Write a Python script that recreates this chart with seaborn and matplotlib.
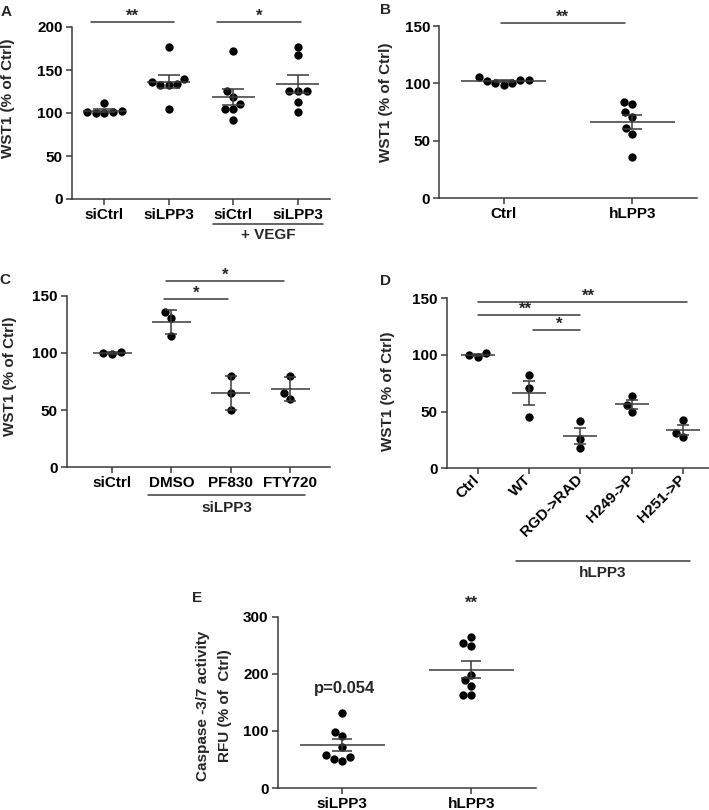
import numpy as np
import pandas as pd
import matplotlib
matplotlib.use("Agg")
import matplotlib.pyplot as plt
import seaborn as sns

sns.set_theme(style="ticks")
plt.rcParams["font.family"] = ["Liberation Sans", "DejaVu Sans"]
plt.rcParams["font.weight"] = "bold"
plt.rcParams["axes.labelweight"] = "bold"

# ---------------- data ----------------
# Panel A
a_labels = ["siCtrl", "siLPP3", "siCtrl", "siLPP3"]
a_siCtrl = [112, 101, 100, 101, 100, 102]
a_siLPP3 = [177, 136, 132, 132, 134, 140, 105]
a_siCtrl_vegf = [172, 126, 119, 105, 105, 111, 92]
a_siLPP3_vegf = [167, 177, 126, 126, 126, 113, 101]

# Panel B
b_labels = ["Ctrl", "hLPP3"]
b_ctrl = [105.3, 103, 100.7, 98.6, 100, 102, 103]
b_hlpp3 = [83.8, 81.8, 75.4, 71, 61, 55.7, 35.7]

# Panel C
c_labels = ["siCtrl", "DMSO", "PF830", "FTY720"]
c_siCtrl = [101, 99, 100]
c_dmso = [135.4, 130.2, 115]
c_pf830 = [79.8, 64.7, 50]
c_fty720 = [79.8, 59.7, 64.7]

# Panel D
d_labels = ["Ctrl", "WT", "RGD->RAD", "H249->P", "H251->P"]
d_ctrl = [101.5, 98.5, 100.3]
d_wt = [82.4, 71.2, 45.6]
d_rgd = [41.5, 25.9, 18.2]
d_h249 = [63.8, 55.9, 50]
d_h251 = [42.6, 31.5, 27.4]

# Panel E
e_labels = ["siLPP3", "hLPP3"]
e_silpp3 = [130.7, 91, 98, 71.2, 53.7, 46.7, 51.4, 58.4]
e_hlpp3 = [264.4, 248.6, 253.9, 198.4, 188.5, 178.6, 163.4, 163.4]

# ---------------- style ----------------
LINE = "#3a3a3a"
FS = 11
W, H = 709, 810
fig = plt.figure(figsize=(W / 100, H / 100), dpi=100)


def px_axes(left, top, right, bottom):
    return fig.add_axes([left / W, 1 - bottom / H, (right - left) / W, (bottom - top) / H])


def scatter_panel(ax, labels, groups, err="se", capsize=7.2, hw=0.33):
    keys = [f"g{i}" for i in range(len(groups))]
    df = pd.DataFrame({
        "group": np.repeat(keys, [len(g) for g in groups]),
        "value": np.concatenate([np.asarray(g, float) for g in groups]),
    })
    sns.swarmplot(data=df, x="group", y="value", order=keys, color="black",
                  size=6, ax=ax, zorder=3)
    for i, g in enumerate(groups):
        g = np.asarray(g, float)
        m = g.mean()
        sd = g.std(ddof=1)
        e = sd / np.sqrt(len(g)) if err == "se" else sd
        ax.hlines(m, i - hw, i + hw, color=LINE, lw=1.1, zorder=4)
        ax.errorbar(i, m, yerr=e, fmt="none", ecolor=LINE, elinewidth=1.1,
                    capsize=capsize, capthick=1.1, zorder=4)
    ax.set_xticks(range(len(labels)))
    ax.set_xticklabels(labels)
    ax.set_xlabel("")
    for s in ["top", "right"]:
        ax.spines[s].set_visible(False)
    for s in ["left", "bottom"]:
        ax.spines[s].set_color(LINE)
        ax.spines[s].set_linewidth(1.1)
    ax.tick_params(axis="both", direction="out", length=4.5, width=1.1,
                   color=LINE, labelsize=FS, pad=2, labelcolor="black")


def sig(ax, x0, x1, y, text, ty=None, tx=None, size=12):
    tr = ax.get_xaxis_transform()
    ax.plot([x0, x1], [y, y], color=LINE, lw=1.1, transform=tr, clip_on=False)
    if tx is None:
        tx = (x0 + x1) / 2
    if ty is None:
        ty = y - 0.01
    ax.text(tx, ty, text, transform=tr, ha="center", va="bottom",
            fontsize=size, fontweight="bold")


def group_line(ax, x0, x1, y, text, ty):
    tr = ax.get_xaxis_transform()
    ax.plot([x0, x1], [y, y], color=LINE, lw=1.1, transform=tr, clip_on=False)
    ax.text((x0 + x1) / 2, ty, text, transform=tr, ha="center", va="center",
            fontsize=FS, fontweight="bold")


# ---------------- Panel A ----------------
axA = px_axes(72, 27, 330, 199)
scatter_panel(axA, a_labels, [a_siCtrl, a_siLPP3, a_siCtrl_vegf, a_siLPP3_vegf],
              err="se", capsize=8)
axA.set_xlim(-0.5, 3.5)
axA.set_ylim(0, 200)
axA.set_yticks([0, 50, 100, 150, 200])
axA.set_ylabel("WST1 (% of Ctrl)", fontsize=FS)
axA.yaxis.set_label_coords(-0.221, 0.587)
sig(axA, -0.2, 1.08, 1.029, "**")
sig(axA, 1.75, 3.05, 1.029, "*")
group_line(axA, 1.69, 3.39, -0.145, "+ VEGF", -0.21)

# ---------------- Panel B ----------------
axB = px_axes(439.3, 26, 696.7, 198.3)
scatter_panel(axB, b_labels, [b_ctrl, b_hlpp3], err="se", capsize=7.2)
axB.set_xlim(-0.5, 1.5)
axB.set_ylim(0, 150)
axB.set_yticks([0, 50, 100, 150])
axB.set_ylabel("WST1 (% of Ctrl)", fontsize=FS)
axB.yaxis.set_label_coords(-0.18, 0.556)
sig(axB, -0.02, 0.94, 1.019, "**")

# ---------------- Panel C ----------------
axC = px_axes(67, 295.7, 330, 467.3)
scatter_panel(axC, c_labels, [c_siCtrl, c_dmso, c_pf830, c_fty720],
              err="sd", capsize=4)
axC.set_xlim(-0.76, 3.67)
axC.set_ylim(0, 150)
axC.set_yticks([0, 50, 100, 150])
axC.set_ylabel("WST1 (% of Ctrl)", fontsize=FS)
axC.yaxis.set_label_coords(-0.19, 0.532)
sig(axC, 0.91, 2.9, 1.086, "*")
sig(axC, 0.88, 1.96, 0.981, "*")
group_line(axC, 0.61, 3.25, -0.161, "siLPP3", -0.24)

# ---------------- Panel D ----------------
axD = px_axes(446.7, 298.3, 709, 468.3)
scatter_panel(axD, d_labels, [d_ctrl, d_wt, d_rgd, d_h249, d_h251],
              err="se", capsize=4)
axD.set_xlim(-0.6, 4.5)
axD.set_ylim(0, 150)
axD.set_yticks([0, 50, 100, 150])
axD.set_ylabel("WST1 (% of Ctrl)", fontsize=FS)
axD.yaxis.set_label_coords(-0.197, 0.456)
for lab in axD.get_xticklabels():
    lab.set_rotation(45)
    lab.set_ha("right")
    lab.set_va("center")
    lab.set_rotation_mode("anchor")
sig(axD, 0.0, 4.08, 0.98, "**", tx=2.15)
sig(axD, 0.0, 1.99, 0.902, "**", tx=0.93)
sig(axD, 1.08, 1.99, 0.815, "*", tx=1.59)
group_line(axD, 0.75, 4.13, -0.544, "hLPP3", -0.615)

# ---------------- Panel E ----------------
axE = px_axes(277.7, 616.7, 536, 788)
scatter_panel(axE, e_labels, [e_silpp3, e_hlpp3], err="se", capsize=7.2)
axE.set_xlim(-0.5, 1.5)
axE.set_ylim(0, 300)
axE.set_yticks([0, 100, 200, 300])
axE.set_ylabel("Caspase -3/7 activity\nRFU (% of  Ctrl)", fontsize=FS,
               linespacing=1.75)
axE.yaxis.set_label_coords(-0.177, 0.479)
axE.text(0.02, 175, "p=0.054", ha="center", va="center", fontsize=12,
         fontweight="bold")
axE.text(1, 324, "**", ha="center", va="center", fontsize=12,
         fontweight="bold", clip_on=False)

# ---------------- panel letters ----------------
for letter, x, y in [("A", 6, 12), ("B", 385, 10), ("C", 5, 280),
                     ("D", 385, 281), ("E", 197, 598)]:
    fig.text(x / W, 1 - y / H, letter, ha="center", va="center",
             fontsize=11, fontweight="bold")

fig.savefig("out.png", dpi=100)
